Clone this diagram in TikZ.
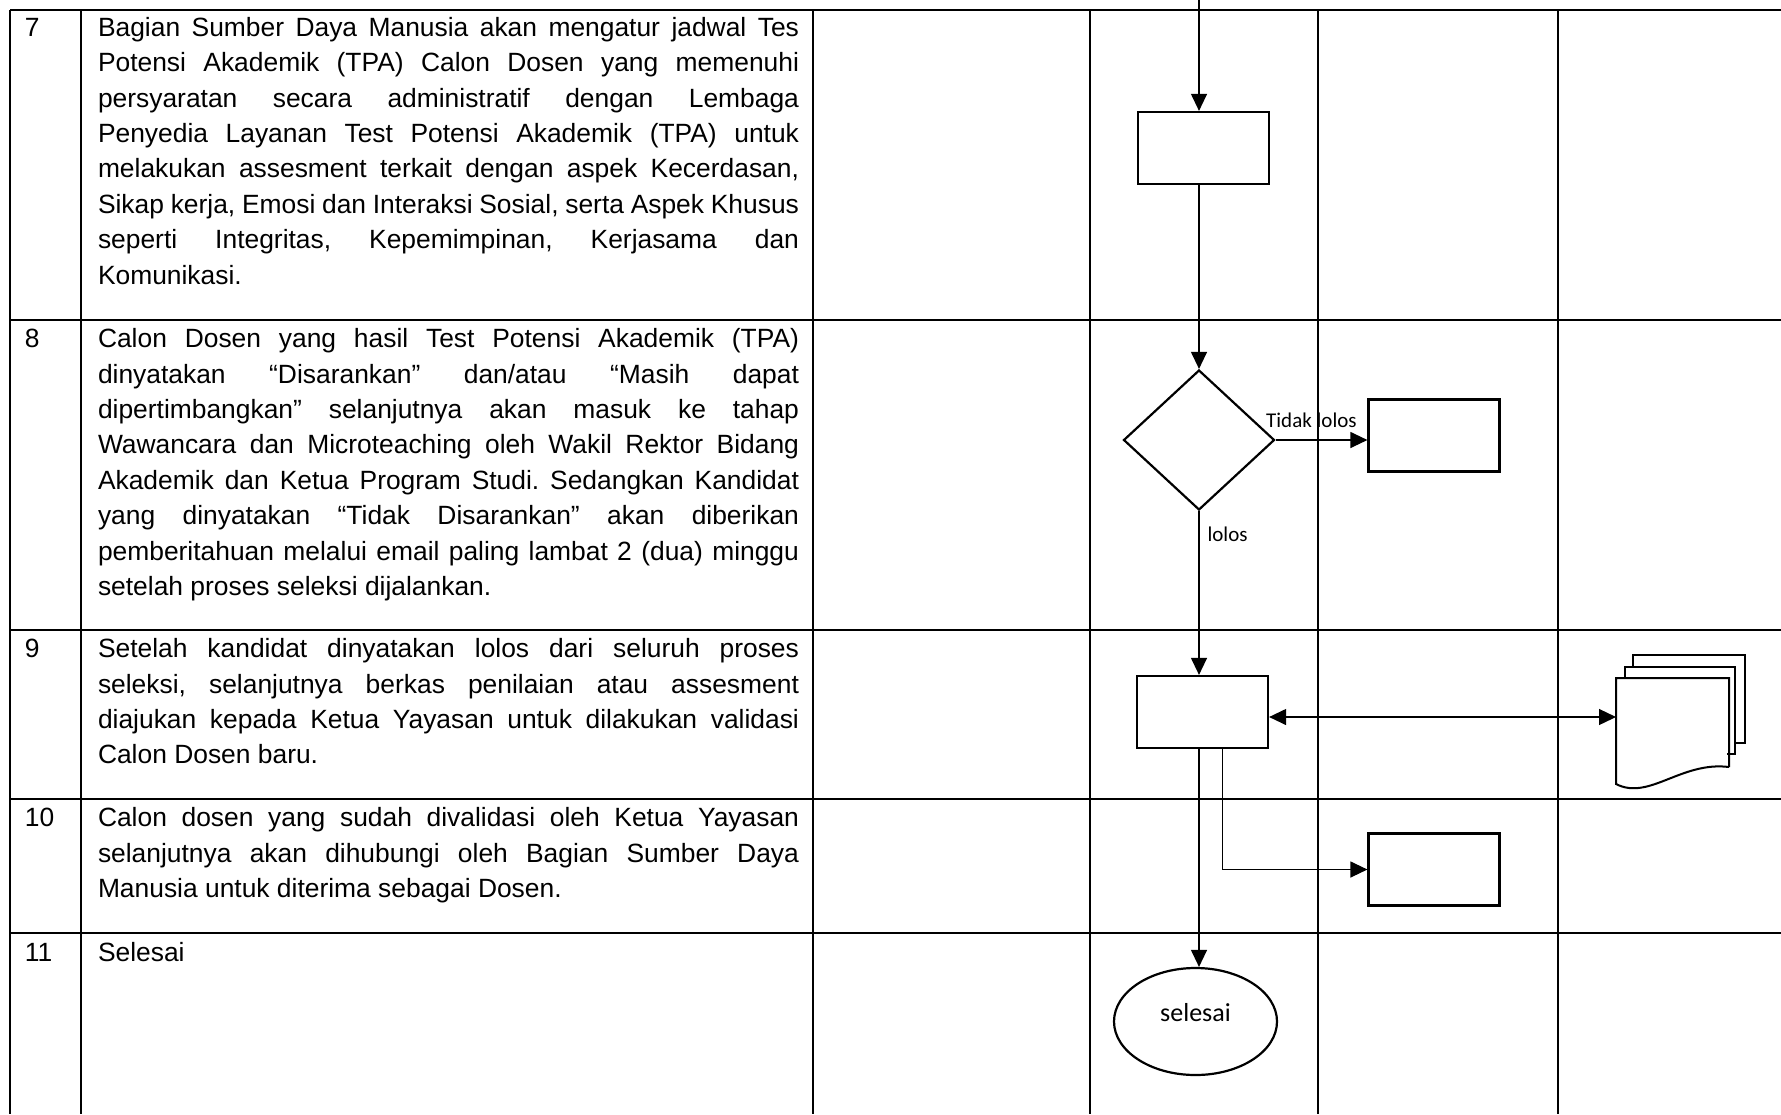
\documentclass[tikz,border=0pt]{standalone}
\usepackage{fontspec}
\setmainfont{Liberation Sans}
\newfontfamily\calib{Carlito}
\usepackage{tikz}
\usetikzlibrary{shapes.geometric}
\usetikzlibrary{positioning}
\usetikzlibrary{calc}
\usetikzlibrary{arrows.meta}
\frenchspacing
\tikzset{every picture/.style={line width=1pt,x=0.5pt,y=-0.5pt},
  nomor/.style={anchor=north west,inner sep=0pt,font=\fontsize{13.2}{17.7}\selectfont},
  uraian/.style={anchor=north west,inner sep=0pt,text width=350.5pt,align=justify,font=\fontsize{13.2}{17.7}\selectfont},
  proses/.style={rectangle,draw,line width=1.1pt,minimum width=65.5pt,minimum height=36pt,inner sep=0pt},
  keputusan/.style={diamond,draw,line width=1.1pt,minimum width=75.5pt,minimum height=70pt,inner sep=0pt},
  akhir/.style={ellipse,draw,line width=1.1pt,minimum width=81.5pt,minimum height=53.5pt,inner sep=0pt,text depth=9.5pt,font=\calib\fontsize{13}{15}\selectfont},
  lembar/.style={rectangle,minimum width=55.5pt,minimum height=43.5pt,inner sep=0pt},
  ket/.style={inner sep=0pt,font=\calib\fontsize{10.5}{12}\selectfont},
  alur/.style={line width=0.6pt,-{Triangle[length=8.5pt,width=8pt]}},
  dua/.style={line width=0.6pt,{Triangle[length=8.5pt,width=8pt]}-{Triangle[length=8.5pt,width=8pt]}}}

\begin{document}
\begin{tikzpicture}
\useasboundingbox (0,0) rectangle (1781,1114);
\draw (10,10) -- (1781,10);
\draw (10,320) -- (1781,320);
\draw (10,630) -- (1781,630);
\draw (10,799) -- (1781,799);
\draw (10,933) -- (1781,933);
\draw (10,10) -- (10,1114);
\draw (81,10) -- (81,1114);
\draw (813,10) -- (813,1114);
\draw (1090,10) -- (1090,1114);
\draw (1318,10) -- (1318,1114);
\draw (1558,10) -- (1558,1114);

\node (n7) at (24,10.5) [nomor] {\strut 7};
\node (t7) at (97,10.5) [uraian] {\strut Bagian Sumber Daya Manusia akan mengatur jadwal Tes\linebreak
Potensi Akademik (TPA) Calon Dosen yang memenuhi\linebreak
persyaratan secara administratif dengan Lembaga\linebreak
Penyedia Layanan Test Potensi Akademik (TPA) untuk\linebreak
melakukan assesment terkait dengan aspek Kecerdasan,\linebreak
Sikap kerja, Emosi dan Interaksi Sosial, serta Aspek Khusus\linebreak
seperti Integritas, Kepemimpinan, Kerjasama dan\linebreak
Komunikasi.};
\node (n8) at (24,322) [nomor] {\strut 8};
\node (t8) at (97,322) [uraian] {\strut Calon Dosen yang hasil Test Potensi Akademik (TPA)\linebreak
dinyatakan “Disarankan” dan/atau “Masih dapat\linebreak
dipertimbangkan” selanjutnya akan masuk ke tahap\linebreak
Wawancara dan Microteaching oleh Wakil Rektor Bidang\linebreak
Akademik dan Ketua Program Studi. Sedangkan Kandidat\linebreak
yang dinyatakan “Tidak Disarankan” akan diberikan\linebreak
pemberitahuan melalui email paling lambat 2 (dua) minggu\linebreak
setelah proses seleksi dijalankan.};
\node (n9) at (24,632) [nomor] {\strut 9};
\node (t9) at (97,632) [uraian] {\strut Setelah kandidat dinyatakan lolos dari seluruh proses\linebreak
seleksi, selanjutnya berkas penilaian atau assesment\linebreak
diajukan kepada Ketua Yayasan untuk dilakukan validasi\linebreak
Calon Dosen baru.};
\node (n10) at (24,801) [nomor] {\strut 10};
\node (t10) at (97,801) [uraian] {\strut Calon dosen yang sudah divalidasi oleh Ketua Yayasan\linebreak
selanjutnya akan dihubungi oleh Bagian Sumber Daya\linebreak
Manusia untuk diterima sebagai Dosen.};
\node (n11) at (24,936) [nomor] {\strut 11};
\node (t11) at (97,936) [uraian] {\strut Selesai};

\coordinate (masuk) at (1199,0);
\node (jadwal) at (1203.5,148) [proses] {};
\node (tpa) at (1199,440) [keputusan] {};
\node (tolak) at ($(tpa)+(235,-4.5)$) [proses] {};
\node (valid) at (1202.5,712) [proses] {};
\node (berkas) at (1672.5,722.5) [lembar] {};
\node (terima) at (1434,869.5) [proses] {};
\node (selesai) at (1195.5,1021.5) [akhir] {selesai};

\draw (berkas.south east) -- (berkas.north east) -- (berkas.north west) -- ($(berkas.south west)+(0,17)$) .. controls +(33,17) and +(-48,-6) .. (berkas.south east);
\draw ($(berkas.north west)+(9,0)$) -- ++(0,-11) -- ++(110,0) -- ++(0,87) -- ++(-8,0);
\draw ($(berkas.north west)+(17,-11)$) -- ++(0,-12) -- ++(112,0) -- ++(0,88) -- ++(-10,0);

\draw[alur] (masuk) -- (masuk |- jadwal.north);
\draw[alur] (masuk |- jadwal.south) -- (tpa.north);
\draw[alur] (tpa.east) -- (tpa.east -| tolak.west) node[ket,above=6pt,pos=0.39] {Tidak lolos};
\draw[alur] (tpa.south) -- (tpa.south |- valid.north) node[ket,right=4pt,pos=0.14] {lolos};
\draw[dua] ([yshift=-2.5pt]valid.east) -- ([yshift=-2.5pt]valid.east -| berkas.west);
\draw[alur] (tpa.south |- valid.south) -- (tpa.south |- selesai.north);
\draw[alur] ([xshift=10pt]valid.south) |- (terima.west);
\end{tikzpicture}
\end{document}
